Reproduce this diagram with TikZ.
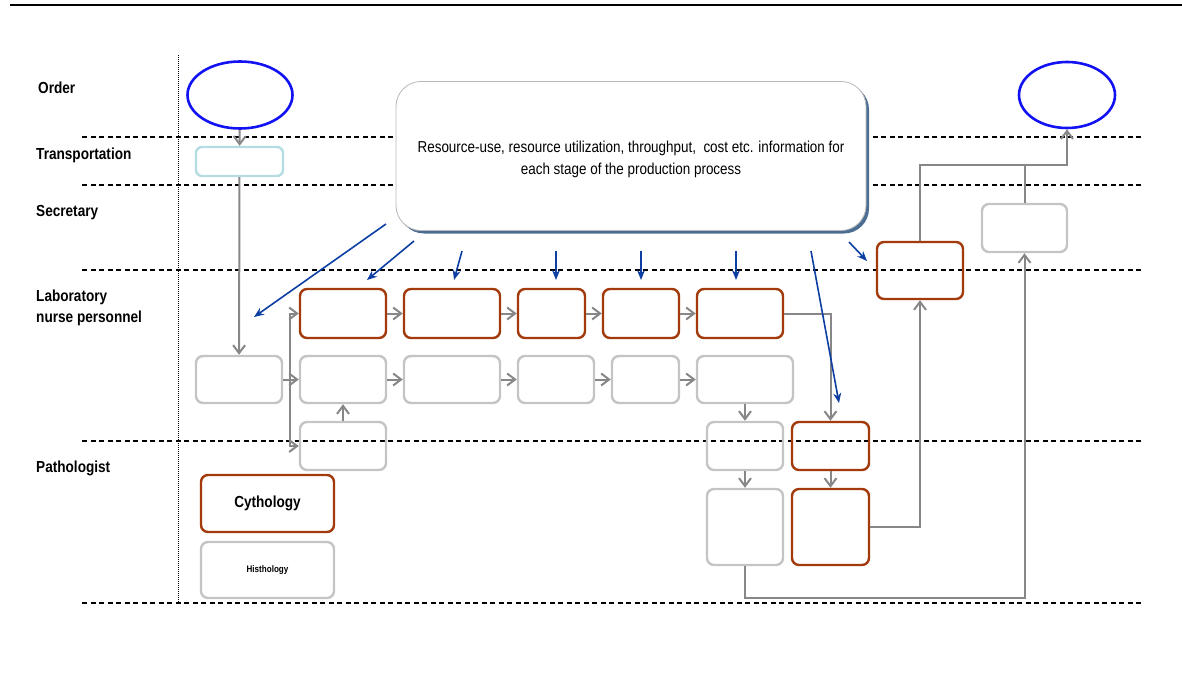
\documentclass[tikz,border=0pt]{standalone}
\usepackage{fontspec}
\setmainfont{Liberation Sans}[FakeStretch=0.85]
\usetikzlibrary{arrows.meta, positioning, calc, shapes.geometric, shadows}
\definecolor{taskorange}{HTML}{A23A0C}
\definecolor{taskgray}{HTML}{C4C4C4}
\definecolor{flowgray}{HTML}{878787}
\definecolor{useblue}{HTML}{0D3FA3}
\definecolor{endblue}{HTML}{1212F2}
\definecolor{transblue}{HTML}{B5DCE2}
\definecolor{infoborder}{HTML}{B8B8B8}
\definecolor{infoshadow}{HTML}{4D6E93}

\begin{document}
\begin{tikzpicture}[x=1pt, y=-1pt,
  lane/.style={line width=1.3pt, dash pattern=on 5pt off 3.5pt},
  lanelabel/.style={anchor=west, align=left, inner sep=0pt, font=\fontsize{16}{21}\selectfont\bfseries},
  obox/.style 2 args={draw=taskorange, line width=2.4pt, rounded corners=7pt, inner sep=0pt, minimum width=#1, minimum height=#2},
  gbox/.style 2 args={draw=taskgray, line width=2.4pt, rounded corners=7pt, inner sep=0pt, minimum width=#1, minimum height=#2},
  endpoint/.style={draw=endblue, line width=2.6pt, ellipse, inner sep=0pt},
  flow/.style={draw=flowgray, line width=2pt, -{Straight Barb[length=8pt, width=12pt]}},
  flowline/.style={draw=flowgray, line width=2pt},
  usearrow/.style={draw=useblue, line width=1.6pt, -{Stealth[length=10pt, width=8pt]}}
]
\useasboundingbox (0,0) rectangle (1182,695);

% page rule and lanes
\draw[line width=2pt] (10,5) -- (1182,5);
\draw[line width=0.9pt, dash pattern=on 1pt off 1pt] (178,55) -- (178,603);
\foreach \ly in {137,185,270,441,603}
  \draw[lane] (82,\ly) -- (1143,\ly);

\node[lanelabel] (lorder) at (38,88) {Order};
\node[lanelabel] (ltrans) at (36,155) {Transportation};
\node[lanelabel] (lsecr) at (36,213) {Secretary};
\node[lanelabel] (llab) at (36,307.5) {Laboratory\\nurse personnel};
\node[lanelabel] (lpath) at (36,468) {Pathologist};

% information box
\node[draw=infoborder, line width=0.8pt, fill=white, rounded corners=25pt,
      minimum width=470, minimum height=149, align=center,
      text height=41pt, text depth=4pt,
      drop shadow={shadow xshift=3pt, shadow yshift=-3pt, fill=infoshadow, opacity=1},
      font=\fontsize{15.8}{22}\selectfont] (info) at (631,156)
  {Resource-use, resource utilization, throughput,\ \ cost etc. information for\\each stage of the production process};

% start and end
\node[endpoint, minimum width=105, minimum height=67] (order) at (240,95) {};
\node[endpoint, minimum width=96, minimum height=66] (done) at (1067,95) {};
\node[draw=transblue, line width=2.4pt, rounded corners=6pt, minimum width=87, minimum height=29] (trans) at (239.5,161.5) {};

% laboratory row
\node[obox={86}{49}] (lab1) at (343,313.5) {};
\node[obox={96}{49}] (lab2) at (452,313.5) {};
\node[obox={67}{49}] (lab3) at (551.5,313.5) {};
\node[obox={76}{49}] (lab4) at (641,313.5) {};
\node[obox={86}{49}] (lab5) at (740,313.5) {};

\node[gbox={86}{47}] (recv) at (239,379.5) {};
\node[gbox={86}{47}] (prep1) at (343,379.5) {};
\node[gbox={96}{47}] (prep2) at (452,379.5) {};
\node[gbox={76}{47}] (prep3) at (556,379.5) {};
\node[gbox={67}{47}] (prep4) at (645.5,379.5) {};
\node[gbox={96}{47}] (prep5) at (745,379.5) {};
\node[gbox={86}{48}] (prep0) at (343,446) {};

% pathologist
\node[gbox={76}{48}] (path1) at (745,446) {};
\node[obox={77}{48}] (diag1) at (830.5,446) {};
\node[gbox={76}{76}] (path2) at (745,527) {};
\node[obox={77}{76}] (diag2) at (830.5,527) {};
\node[obox={86}{57}] (report) at (920,270.5) {};
\node[gbox={85}{48}] (secr) at (1024.5,228) {};

\node[obox={133}{57}, font=\fontsize{16}{18}\selectfont\bfseries] (cyto) at (267.5,503.5) {Cythology};
\node[gbox={133}{56}, font=\fontsize{9.5}{11}\selectfont\bfseries] (histo) at (267.5,570) {Histhology};

% gray flow
\draw[flow] (order) -- (trans);
\draw[flow] (trans) -- (recv);
\draw[flow] (recv) -- (prep1);
\coordinate (split) at (290,379.5);
\draw[flow] (split) |- (lab1.west);
\draw[flow] (split) |- (prep0.west);
\draw[flow] (prep0) -- (prep1);
\draw[flow] (lab1) -- (lab2);
\draw[flow] (lab2) -- (lab3);
\draw[flow] (lab3) -- (lab4);
\draw[flow] (lab4) -- (lab5);
\draw[flow] (prep1) -- (prep2);
\draw[flow] (prep2) -- (prep3);
\draw[flow] (prep3) -- (prep4);
\draw[flow] (prep4) -- (prep5);
\draw[flow] (lab5.east) -| (diag1.north);
\draw[flow] (prep5) -- (path1);
\draw[flow] (path1) -- (path2);
\draw[flow] (diag1) -- (diag2);
\draw[flow] (diag2.east) -| (report.south);
\draw[flow] (path2.south) -- ++(0,32) -| (secr.south);
\coordinate (merge) at (1024.5,165);
\draw[flowline] (secr.north) -- (merge);
\draw[flow] (report.north) |- (merge) -| (done.south);

% information arrows
\coordinate (src1) at (386,224);  \coordinate (dst1) at (254,317);
\coordinate (src2) at (414,241);  \coordinate (dst2) at (367,280);
\coordinate (src3) at (462,251);  \coordinate (dst3) at (454,280);
\coordinate (src4) at (556,251);  \coordinate (dst4) at (556,280);
\coordinate (src5) at (641,251);  \coordinate (dst5) at (641,280);
\coordinate (src6) at (736,251);  \coordinate (dst6) at (736,280);
\coordinate (src7) at (811,251);  \coordinate (dst7) at (839,403);
\coordinate (src8) at (849,242);  \coordinate (dst8) at (867,261);
\foreach \i in {1,...,8}
  \draw[usearrow] (src\i) -- (dst\i);
\end{tikzpicture}
\end{document}
